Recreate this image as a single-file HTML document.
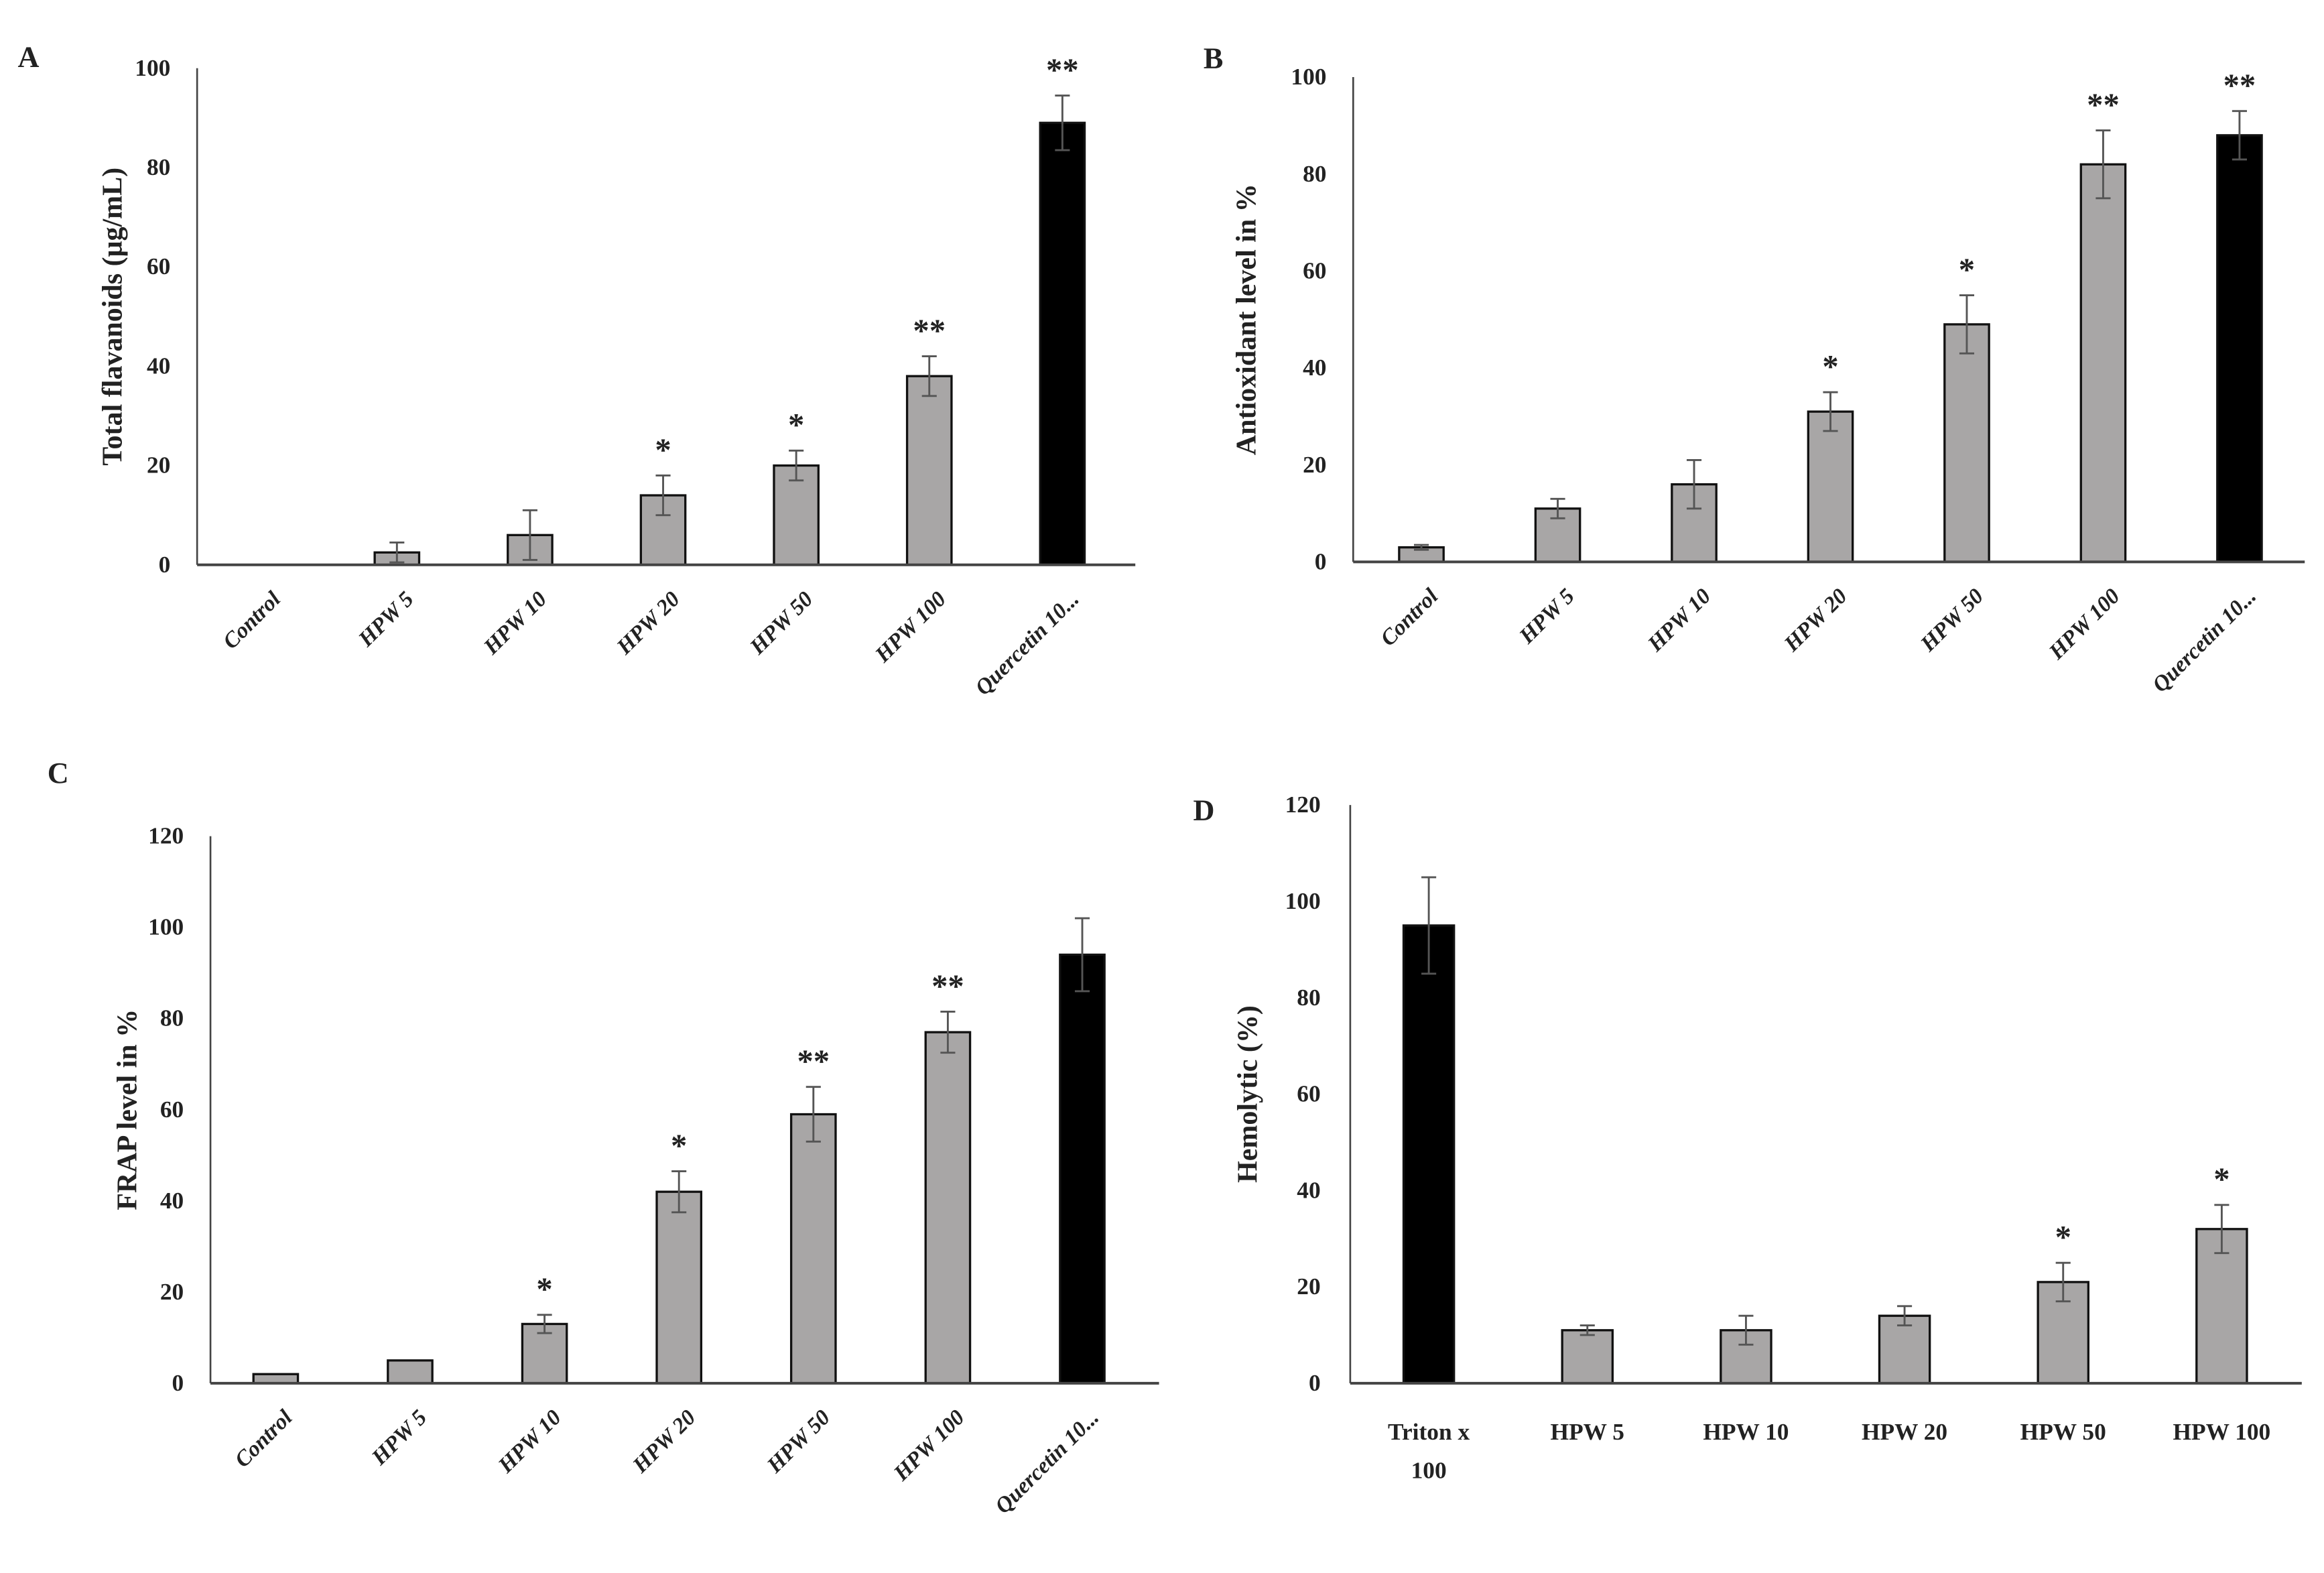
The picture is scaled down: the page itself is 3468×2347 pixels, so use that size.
<!DOCTYPE html>
<html><head><meta charset="utf-8">
<style>
html,body{margin:0;padding:0;background:#fff;}
svg{display:block;}
text{font-family:"Liberation Serif",serif;font-weight:bold;fill:#222;}
</style></head>
<body>
<svg id="fig" width="3468" height="2347" viewBox="0 0 1568 1061" preserveAspectRatio="none" xmlns="http://www.w3.org/2000/svg"></svg>
<script>
// Panel A
const catsA = ["Control","HPW 5","HPW 10","HPW 20","HPW 50","HPW 100","Quercetin 10..."];
const valsA = [0, 2.5, 6, 14, 20, 38, 89];
const errA = [0, 2, 5, 4, 3, 4, 5.5];
const starsA = ["", "", "", "*", "*", "**", "**"];
const ticksA = [0, 20, 40, 60, 80, 100];
// Panel B
const catsB = ["Control","HPW 5","HPW 10","HPW 20","HPW 50","HPW 100","Quercetin 10..."];
const valsB = [3, 11, 16, 31, 49, 82, 88];
const errB = [0.5, 2, 5, 4, 6, 7, 5];
const starsB = ["", "", "", "*", "*", "**", "**"];
const ticksB = [0, 20, 40, 60, 80, 100];
// Panel C
const catsC = ["Control","HPW 5","HPW 10","HPW 20","HPW 50","HPW 100","Quercetin 10..."];
const valsC = [2, 5, 13, 42, 59, 77, 94];
const errC = [0, 0, 2, 4.5, 6, 4.5, 8];
const starsC = ["", "", "*", "*", "**", "**", ""];
const ticksC = [0, 20, 40, 60, 80, 100, 120];
// Panel D
const catsD = ["Triton x|100","HPW 5","HPW 10","HPW 20","HPW 50","HPW 100"];
const valsD = [95, 11, 11, 14, 21, 32];
const errD = [10, 1, 3, 2, 4, 5];
const starsD = ["", "", "", "", "*", "*"];
const ticksD = [0, 20, 40, 60, 80, 100, 120];

const NS = "http://www.w3.org/2000/svg";
const svg = document.getElementById("fig");
function mk(tag, attrs, parent, txt){
  const e = document.createElementNS(NS, tag);
  for (const k in attrs) e.setAttribute(k, attrs[k]);
  if (txt !== undefined) e.textContent = txt;
  parent.appendChild(e);
  return e;
}

function panel(p){
  const g = mk("g", {}, svg);
  
  
  const yMax = p.ticks[p.ticks.length-1];
  const y = v => p.y0 - (v / yMax) * (p.y0 - p.yTop);
  const x = i => p.xFirst + i * p.step;
  const lab = mk("text", {x:p.lx, y:p.ly, "font-size":20}, g, p.id);
  
  
  const ya = mk("line", {x1:p.ax, y1:p.yTop, x2:p.ax, y2:p.y0, stroke:"#444", "stroke-width":1.2}, g);
  
  
  p.ticks.forEach(t => {
    const tt = mk("text", {x:p.ax-p.tg, y:y(t)+5, "font-size":16, "text-anchor":"end"}, g, t);
    
    
  });
  const yt = mk("text", {transform:`translate(${p.ytx},${(p.y0+p.yTop)/2}) rotate(-90)`, "font-size":19, "text-anchor":"middle"}, g, p.ytitle);
  
  
  p.cats.forEach((c, i) => {
    const cx = x(i), v = p.vals[i], e = p.err[i];
    const bar = mk("rect", {x:cx-p.bw/2, y:y(v), width:p.bw, height:p.y0-y(v),
      fill: p.black[i] ? "#000" : "#a8a6a6", stroke:"#111", "stroke-width":1.5}, g);
    
    
    if (e > 0) {
      const eg = mk("g", {stroke:"#555", "stroke-width":1.3}, g);
      
      
      mk("line", {x1:cx, y1:y(v+e), x2:cx, y2:y(v-e)}, eg);
      mk("line", {x1:cx-5, y1:y(v+e), x2:cx+5, y2:y(v+e)}, eg);
      mk("line", {x1:cx-5, y1:y(v-e), x2:cx+5, y2:y(v-e)}, eg);
    }
    if (p.stars[i]) {
      const st = mk("text", {x:cx, y:y(v+e)-10, "font-size":22, "text-anchor":"middle"}, g, p.stars[i]);
      
      
    }
    if (p.rot) {
      const t = mk("text", {transform:`translate(${cx+12},${p.y0+24}) rotate(-45)`, "font-size":15, "font-style":"italic", "text-anchor":"end"}, g, c);
      
      
    } else {
      const parts = c.split("|");
      parts.forEach((s, k) => {
        const t = mk("text", {x:cx, y:p.y0+38+k*26, "font-size":16, "text-anchor":"middle"}, g, s);
        
        
      });
    }
  });
  const xa = mk("line", {x1:p.ax, y1:p.y0, x2:p.xEnd, y2:p.y0, stroke:"#444", "stroke-width":1.8}, g);
  
  
}

panel({id:"A", cats:catsA, vals:valsA, err:errA, stars:starsA, ticks:ticksA,
  black:[0,0,0,0,0,0,1], ax:133, tg:18, y0:381, yTop:46, xEnd:766, xFirst:178, step:89.8, bw:30,
  lx:12, ly:45, ytx:82, ytitle:"Total  flavanoids  (μg/mL)", rot:true});
panel({id:"B", cats:catsB, vals:valsB, err:errB, stars:starsB, ticks:ticksB,
  black:[0,0,0,0,0,0,1], ax:913, tg:18, y0:379, yTop:52, xEnd:1555, xFirst:959, step:92, bw:30,
  lx:812, ly:46, ytx:847, ytitle:"Antioxidant  level in %", rot:true});
panel({id:"C", cats:catsC, vals:valsC, err:errC, stars:starsC, ticks:ticksC,
  black:[0,0,0,0,0,0,1], ax:142, tg:18, y0:933, yTop:564, xEnd:782, xFirst:186, step:90.7, bw:30,
  lx:32, ly:528, ytx:92, ytitle:"FRAP level in %", rot:true});
panel({id:"D", cats:catsD, vals:valsD, err:errD, stars:starsD, ticks:ticksD,
  black:[1,0,0,0,0,0], ax:911, tg:20, y0:933, yTop:543, xEnd:1553, xFirst:964, step:107, bw:34,
  lx:805, ly:553, ytx:848, ytitle:"Hemolytic  (%)", rot:false});
</script>
</body></html>
